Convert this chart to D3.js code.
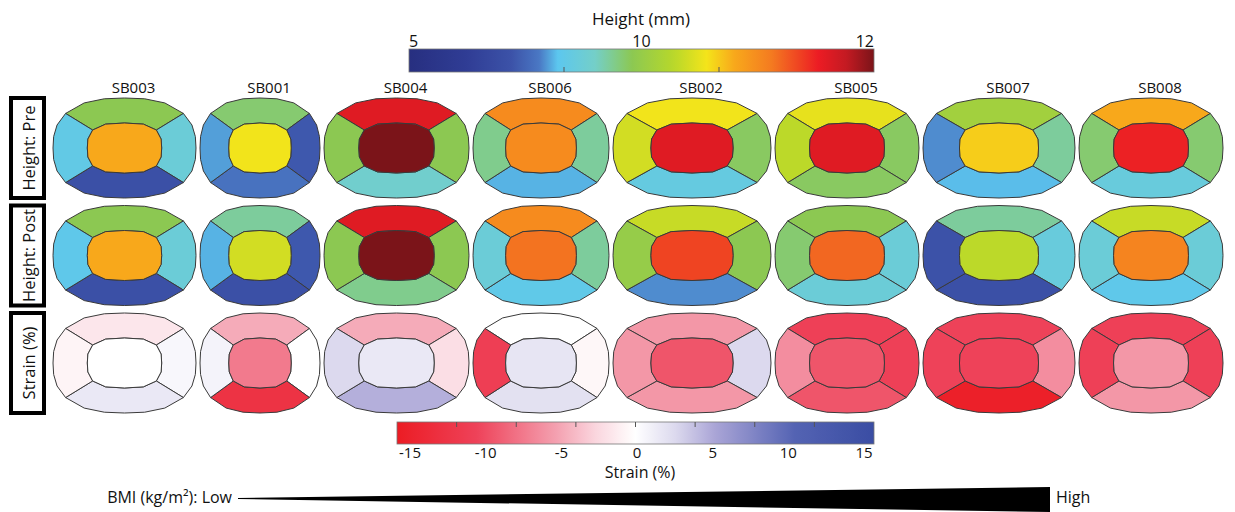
<!DOCTYPE html>
<html>
<head>
<meta charset="utf-8">
<script src="https://cdn.jsdelivr.net/npm/d3@7"></script>
<style>
  body { margin: 0; background: #fff; }
  text { font-family: "Open Sans", sans-serif; fill: #111; }
</style>
</head>
<body>
<svg id="chart" width="1235" height="512"></svg>
<script>
// ---- data ----
const subjects = ['SB003', 'SB001', 'SB004', 'SB006', 'SB002', 'SB005', 'SB007', 'SB008'];
const regionNames = ['center', 'top', 'right', 'bottom', 'left'];
const rowLabels = ['Height: Pre', 'Height: Post', 'Strain (%)'];

// cartilage height (mm) per region: center, top, right, bottom, left
const heightPre = [
  [10.8, 9.8, 8.7, 7.1, 8.4],
  [10.55, 9.6, 7.3, 7.7, 8.0],
  [12.0, 11.6, 9.8, 8.9, 9.8],
  [11.0, 11.0, 9.3, 8.1, 9.4],
  [11.6, 10.55, 9.7, 8.5, 10.4],
  [11.6, 10.5, 9.7, 9.7, 10.3],
  [10.65, 10.1, 9.3, 8.15, 7.9],
  [11.5, 10.8, 9.6, 8.6, 9.6]
];
const heightPost = [
  [10.8, 9.8, 8.7, 7.1, 8.3],
  [10.4, 9.3, 7.3, 7.1, 8.1],
  [12.0, 11.6, 9.8, 9.4, 9.8],
  [11.15, 11.0, 9.3, 8.35, 8.7],
  [11.35, 10.35, 9.8, 7.9, 10.0],
  [11.2, 9.8, 8.7, 8.7, 9.6],
  [10.3, 9.3, 8.6, 7.1, 7.2],
  [11.05, 10.35, 8.7, 8.3, 8.7]
];
// strain (%) per region: center, top, right, bottom, left
const strainPct = [
  [0, -1.5, 0.5, 1.5, -0.7],
  [-7, -4.5, 0, -12, 0.8],
  [1.5, -4.5, -2, 4.5, 2.5],
  [1.7, 0, -0.5, 2, -10.5],
  [-9, -5.5, 2.5, -5.5, -5.5],
  [-9, -10.2, -10.2, -9, -6],
  [-10, -10, -6, -14.5, -10],
  [-5.5, -10.2, -10.2, -5.5, -10.2]
];
const heightTicks = [5, 10, 12];
const strainTicks = [-15, -10, -5, 0, 5, 10, 15];

// ---- shape template / layout ----
const shapeWidth = [143, 120, 145, 136, 158, 144, 152, 144];
const shapeGap = 4, shapeLeft = 53, shapeHalfH = 50;
const colCenter = [];
let cursor = shapeLeft;
shapeWidth.forEach(w => { colCenter.push(cursor + w / 2); cursor += w + shapeGap; });

const svg = d3.select('#chart');
const rowY = d3.scalePoint().domain(d3.range(3)).range([148, 363]);

// colour maps
const jetT = [0, 0.12, 0.22, 0.28, 0.32, 0.4, 0.48, 0.57, 0.64, 0.7, 0.78, 0.88, 0.94, 1];
const jetC = ['#272f80', '#2f3c94', '#3c52a8', '#4a78c4', '#5cc7ef', '#74cfc8', '#8cc852', '#b8d82a',
              '#f4e41a', '#f8a81b', '#f47a20', '#ec1c24', '#c41a22', '#7b1419'];
const jet = d3.scaleLinear().domain(jetT).range(jetC).interpolate(d3.interpolateRgb);
const heightPos = d3.scaleLinear().domain([5, 10, 12]).range([0, 0.5, 1]).clamp(true);
const heightColor = v => jet(heightPos(v));
const strainColor = d3.scaleLinear()
  .domain([-15, -10, -5, -2.5, 0, 2.5, 5, 10, 15])
  .range(['#ec1c24', '#ee4259', '#f4a0b0', '#fad6de', '#ffffff', '#dcd9ee', '#aaa5d6', '#5463b3', '#3a4da3'])
  .clamp(true);

// superellipse point at polar angle (deg)
function se(deg, a, b, n) {
  const t = deg * Math.PI / 180, c = Math.cos(t), s = Math.sin(t);
  const r = Math.pow(Math.pow(Math.abs(c), n) + Math.pow(Math.abs(s), n), -1 / n);
  return [a * r * c, b * r * s];
}
const outerAngles = [-140, -122, -106, -90, -74, -58, -40, -26, -13, 0, 13, 26, 40, 58, 74, 90, 106, 122, 140, 154, 167, 180, 193, 206, 220];
const innerAngles = [-140, -118, -90, -62, -40, -20, 0, 20, 40, 62, 90, 118, 140, 160, 180, 200, 220];
const sectors = {top: [-140, -40], right: [-40, 40], bottom: [40, 140], left: [140, 220]};
const outerN = 2.55, innerN = 3, innerA = 0.52, innerB = 0.5;

function regionPoints(name) {
  if (name === 'center') return innerAngles.slice(0, -1).map(a => se(a, innerA, innerB, innerN));
  const [t1, t2] = sectors[name];
  const outer = outerAngles.filter(a => a >= t1 && a <= t2).map(a => se(a, 1, 1, outerN));
  const inner = innerAngles.filter(a => a >= t1 && a <= t2).reverse().map(a => se(a, innerA, innerB, innerN));
  return outer.concat(inner);
}

const rowsData = [heightPre, heightPost, strainPct];
const rowColor = [heightColor, heightColor, strainColor];
const line = d3.line().curve(d3.curveLinearClosed);

rowsData.forEach((rowData, r) => {
  subjects.forEach((s, i) => {
    const xs = d3.scaleLinear().domain([-1, 1]).range([colCenter[i] - shapeWidth[i] / 2, colCenter[i] + shapeWidth[i] / 2]);
    const ys = d3.scaleLinear().domain([-1, 1]).range([rowY(r) - shapeHalfH, rowY(r) + shapeHalfH]);
    const g = svg.append('g');
    // ring first, center last
    const order = [1, 2, 3, 4, 0];
    g.selectAll('path')
      .data(order.map(k => ({name: regionNames[k], v: rowData[i][k]})))
      .enter().append('path')
      .attr('d', d => line(regionPoints(d.name).map(p => [xs(p[0]), ys(p[1])])))
      .attr('fill', d => rowColor[r](d.v))
      .attr('stroke', '#3a3a3a')
      .attr('stroke-width', 1)
      .attr('stroke-linejoin', 'round');
  });
});

// column labels
svg.selectAll('.col-label')
  .data(subjects)
  .enter().append('text')
  .attr('class', 'col-label')
  .attr('x', (d, i) => colCenter[i] + 9)
  .attr('y', 93)
  .attr('text-anchor', 'middle')
  .style('font-size', '15px')
  .text(d => d);

// row label boxes
const rowG = svg.selectAll('.row-label')
  .data(rowLabels)
  .enter().append('g')
  .attr('class', 'row-label');
rowG.append('rect')
  .attr('x', 11)
  .attr('y', (d, i) => rowY(i) - 50)
  .attr('width', 33)
  .attr('height', 100)
  .attr('fill', '#fff')
  .attr('stroke', '#000')
  .attr('stroke-width', 4);
rowG.append('text')
  .attr('transform', (d, i) => `translate(28,${rowY(i)}) rotate(-90)`)
  .attr('text-anchor', 'middle')
  .attr('dominant-baseline', 'central')
  .style('font-size', '16.5px')
  .text(d => d);

// ---- height colour bar ----
const defs = svg.append('defs');
const hx = d3.scaleLinear().domain([5, 10, 12]).range([409, 641.5, 874]);
const hGrad = defs.append('linearGradient').attr('id', 'hgrad');
d3.range(0, 1.0001, 0.02).forEach(t => hGrad.append('stop').attr('offset', t).attr('stop-color', jet(t)));
svg.append('rect')
  .attr('x', hx(5)).attr('y', 49)
  .attr('width', hx(12) - hx(5)).attr('height', 23)
  .attr('fill', 'url(#hgrad)')
  .attr('stroke', '#777').attr('stroke-width', 0.8);
svg.selectAll('.htick')
  .data([1 / 3, 2 / 3].map(t => heightPos.invert(t)))
  .enter().append('line')
  .attr('x1', d => hx(d)).attr('x2', d => hx(d))
  .attr('y1', 67).attr('y2', 72)
  .attr('stroke', '#555').attr('stroke-width', 1);
svg.selectAll('.hlabel')
  .data(heightTicks)
  .enter().append('text')
  .attr('x', d => hx(d))
  .attr('y', 47)
  .attr('text-anchor', (d, i) => i === 0 ? 'start' : (i === heightTicks.length - 1 ? 'end' : 'middle'))
  .style('font-size', '16px')
  .text(d => d);
svg.append('text')
  .attr('x', 641).attr('y', 25)
  .attr('text-anchor', 'middle')
  .style('font-size', '17px')
  .text('Height (mm)');

// ---- strain colour bar ----
const sx = d3.scaleLinear().domain([-15, 15]).range([397, 874]);
const sLabel = d3.scaleLinear().domain([-15, 15]).range([410, 864]);
const sGrad = defs.append('linearGradient').attr('id', 'sgrad');
d3.range(-15, 15.001, 0.5).forEach(v => sGrad.append('stop').attr('offset', (v + 15) / 30).attr('stop-color', strainColor(v)));
svg.append('rect')
  .attr('x', sx(-15)).attr('y', 422)
  .attr('width', sx(15) - sx(-15)).attr('height', 22)
  .attr('fill', 'url(#sgrad)')
  .attr('stroke', '#777').attr('stroke-width', 0.8);
svg.selectAll('.stick')
  .data(d3.range(1, 8).map(k => -15 + k * 3.75))
  .enter().append('line')
  .attr('x1', d => sx(d)).attr('x2', d => sx(d))
  .attr('y1', 422).attr('y2', 427)
  .attr('stroke', '#555').attr('stroke-width', 1);
svg.selectAll('.slabel')
  .data(strainTicks)
  .enter().append('text')
  .attr('x', d => sLabel(d))
  .attr('y', 458)
  .attr('text-anchor', 'middle')
  .style('font-size', '15px')
  .text(d => d);
svg.append('text')
  .attr('x', 640).attr('y', 478)
  .attr('text-anchor', 'middle')
  .style('font-size', '16px')
  .text('Strain (%)');

// ---- BMI wedge ----
const bx = d3.scaleLinear().domain([0, 1]).range([238, 1050]);
const bw = d3.scaleLinear().domain([0, 1]).range([1, 25]);
svg.append('path')
  .attr('d', d3.area().x(d => bx(d)).y0(d => 498.5 - bw(d) * 0.46).y1(d => 498.5 + bw(d) * 0.54)([0, 1]))
  .attr('fill', '#000');
svg.append('text')
  .attr('x', 232).attr('y', 503)
  .attr('text-anchor', 'end')
  .style('font-size', '16px')
  .text('BMI (kg/m²): Low');
svg.append('text')
  .attr('x', 1056).attr('y', 503)
  .style('font-size', '16px')
  .text('High');
</script>
</body>
</html>
